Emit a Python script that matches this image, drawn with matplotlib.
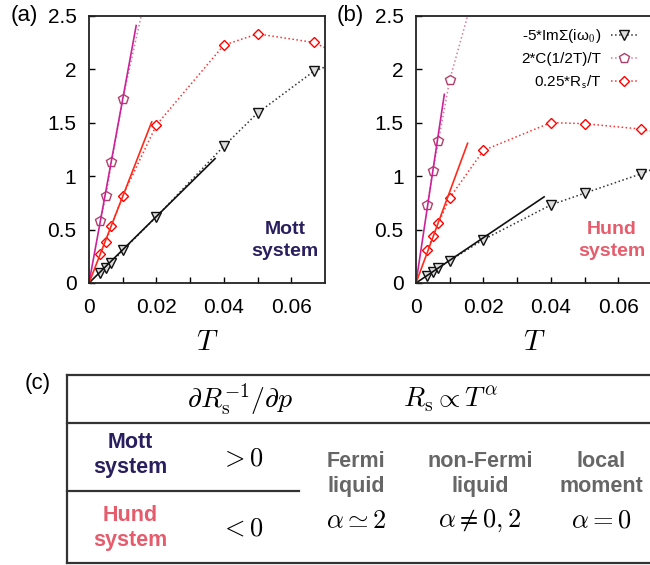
import numpy as np
import matplotlib.pyplot as plt

plt.rcParams['font.family'] = ['Liberation Sans', 'DejaVu Sans']
plt.rcParams['mathtext.fontset'] = 'cm'

# temperatures 1/300 ... 1/10 (last one lies off the plot, only sets the line direction)
temps = [1/300, 1/200, 1/150, 1/100, 1/50, 1/25, 1/20, 1/15, 1/10]

# (a) Mott system
mott_imsig = [0.094, 0.14, 0.19, 0.306, 0.62, 1.28, 1.59, 1.98, 2.38]
mott_spec = [0.58, 0.81, 1.13, 1.72, 3.14]
mott_rs = [0.275, 0.384, 0.537, 0.816, 1.478, 2.225, 2.33, 2.25, 1.75]
# (b) Hund system
hund_imsig = [0.0625, 0.103, 0.144, 0.209, 0.406, 0.73, 0.84, 1.02, 1.44]
hund_spec = [0.73, 1.046, 1.33, 1.90, 3.03]
hund_rs = [0.306, 0.4375, 0.56, 0.797, 1.24, 1.50, 1.49, 1.44, 1.23]

# linear low-T fits: slope, last T of the fit line
mott_fits = [(31.1, 0.0374), (172.0, 0.014), (81.0, 0.0186)]
hund_fits = [(21.2, 0.038), (210.0, 0.0084), (85.4, 0.0153)]

labels = ['-5*ImΣ(iω$_{\\mathsf{0}}$)', '2*C(1/2T)/T', '0.25*R$_{\\mathsf{s}}$/T']
xticks = [0, 0.02, 0.04, 0.06]
xtick_labels = ['0', '0.02', '0.04', '0.06']
yticks = [0, 0.5, 1, 1.5, 2, 2.5]
ytick_labels = ['0', '0.5', '1', '1.5', '2', '2.5']

# table (c)
systems = ['Mott\nsystem', 'Hund\nsystem']
system_cols = ['#2a1f5e', '#e65c6c']
signs = ['$>0$', '$<0$']
phases = ['Fermi\nliquid', 'non-Fermi\nliquid', 'local\nmoment']
alphas = ['$\\alpha\\simeq 2$', '$\\alpha\\neq 0,2$', '$\\alpha=0$']

W, H = 650, 565
fig = plt.figure(figsize=(W / 100, H / 100), dpi=100)


def px_box(l, t, r, b):
    return [l / W, 1 - b / H, (r - l) / W, (b - t) / H]


# overlay in pixel coordinates for the table and panel letters
ov = fig.add_axes([0, 0, 1, 1])
ov.set_xlim(0, W)
ov.set_ylim(H, 0)
ov.set_axis_off()

line_col = '#333333'
styles = [dict(marker='v', color='#333333', mfc='#dddddd', mec='#111111', ms=6.5),
          dict(marker='p', color='#d97a9a', mfc='white', mec='#b0406a', ms=7),
          dict(marker='D', color='#ff3030', mfc='white', mec='#ff0000', ms=5.5)]
fit_cols = ['#111111', '#cc2299', '#ff2a1a']


def panel(box, series, fits, text, tcol, legend=False):
    ax = fig.add_axes(box)
    for vals, st, lab in zip(series, styles, labels):
        ax.plot(temps[:len(vals)], vals, ls=':', lw=1.1, mew=1.0, label=lab, **st)
    for (slope, tend), c in zip(fits, fit_cols):
        tt = np.array([0, tend])
        ax.plot(tt, slope * tt, '-', color=c, lw=1.2)
    ax.set_xlim(0, 0.07)
    ax.set_ylim(0, 2.5)
    ax.set_xticks(xticks)
    ax.set_xticklabels(xtick_labels)
    ax.set_xticks([0.01, 0.03, 0.05], minor=True)
    ax.set_yticks(yticks)
    ax.set_yticklabels(ytick_labels)
    ax.tick_params(which='both', direction='in', length=4, width=1, labelsize=15)
    ax.tick_params(axis='x', pad=11)
    ax.tick_params(axis='y', pad=9)
    for s in ax.spines.values():
        s.set_linewidth(1.3)
        s.set_color('#222222')
    ax.set_xlabel('$T$', fontsize=21, labelpad=8)
    ax.text(0.83, 0.16, text, transform=ax.transAxes, ha='center', va='center',
            fontsize=14, fontweight='bold', color=tcol, linespacing=1.4)
    if legend:
        ax.legend(loc='upper right', markerfirst=False, frameon=False, fontsize=11,
                  handlelength=1.8, handletextpad=0.6, labelspacing=0.45,
                  borderaxespad=0.35, bbox_to_anchor=(0.99, 1.0))
    return ax


ax_a = panel(px_box(89, 15.7, 325, 283), [mott_imsig, mott_spec, mott_rs],
             mott_fits, 'Mott\nsystem', '#2a1f5e')
ax_b = panel(px_box(416, 15.7, 652, 283), [hund_imsig, hund_spec, hund_rs],
             hund_fits, 'Hund\nsystem', '#e65c6c', legend=True)

ov.text(24, 16, '(a)', fontsize=16, ha='center', va='center')
ov.text(350, 16, '(b)', fontsize=16, ha='center', va='center')
ov.text(38, 384, '(c)', fontsize=16, ha='center', va='center')

tl, tt_, tb, hdr, mid = 67, 375, 563, 423, 491
for y in (tt_, hdr, tb):
    ov.plot([tl, W], [y, y], color=line_col, lw=1.6)
ov.plot([tl, tl], [tt_, tb], color=line_col, lw=1.6)
ov.plot([tl, 299], [mid, mid], color=line_col, lw=1.6)

ov.text(240, 399, '$\\partial R_{\\rm s}^{-1}/\\partial p$', fontsize=20, ha='center', va='center')
ov.text(450, 399, '$R_{\\rm s}\\propto T^{\\alpha}$', fontsize=20, ha='center', va='center')
for y, name, col, sg, sy in zip([455, 528], systems, system_cols, signs, [459, 528]):
    ov.text(130, y, name, fontsize=15.5, fontweight='bold', color=col,
            ha='center', va='center', linespacing=1.3)
    ov.text(242, sy, sg, fontsize=19, ha='center', va='center')

for x, ph, al in zip([356, 480, 601], phases, alphas):
    ov.text(x, 474, ph, fontsize=15.5, fontweight='bold', color='#666666',
            ha='center', va='center', linespacing=1.2)
    ov.text(x, 521, al, fontsize=19, ha='center', va='center')

fig.savefig('out.png', dpi=100)
